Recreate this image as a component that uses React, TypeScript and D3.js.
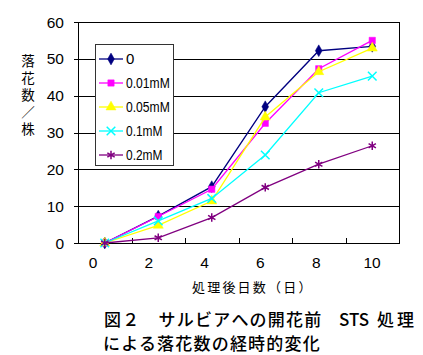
import React from 'react';
import * as d3 from 'd3';

const days = ['0', '2', '4', '6', '8', '10'];
const dayNums = [0, 2, 4, 6, 8, 10];
const seriesNames = ['0', '0.01mM', '0.05mM', '0.1mM', '0.2mM'];
const s0 = [0, 7.3, 15.3, 37.0, 52.2, 53.4];
const s001 = [0, 7.2, 14.6, 32.5, 47.3, 55.0];
const s005 = [0, 4.8, 11.4, 34.2, 46.5, 52.9];
const s01 = [0, 6.0, 12.1, 23.9, 40.8, 45.3];
const s02 = [0, 1.4, 6.9, 15.1, 21.4, 26.4];
const allSeries = [s0, s001, s005, s01, s02];
const yTicks = [0, 10, 20, 30, 40, 50, 60];
const colors = ['#000080', '#FF00FF', '#FFFF00', '#00FFFF', '#800080'];
const markerTypes = ['diamond', 'square', 'triangle', 'times', 'asterisk'];

const yTitle = ['落', '花', '数', '／', '株'];
const xTitle = '処理後日数（日）';
const caption1a = '図２　サルビアへの開花前';
const caption1b = 'STS';
const caption1c = '処理';
const caption2 = 'による落花数の経時的変化';

const W = 423;
const H = 355;
const L = 78, R = 399, T = 22, B = 243;

const num = "'Liberation Sans', Arial, sans-serif";
const jp = "'Noto Sans CJK JP', 'Noto Sans CJK SC', sans-serif";

function Marker({ type, x, y, color }: { type: string; x: number; y: number; color: string }) {
  let sym: any;
  let stroke = false;
  let size = 42;
  if (type === 'diamond') { sym = d3.symbolDiamond; size = 40; }
  else if (type === 'square') { sym = d3.symbolSquare; size = 40; }
  else if (type === 'triangle') { sym = d3.symbolTriangle; size = 44; }
  else if (type === 'times') { sym = d3.symbolTimes; size = 50; stroke = true; }
  else { sym = d3.symbolAsterisk; size = 50; stroke = true; }
  const d = d3.symbol(sym, size)() as string;
  return (
    <path
      d={d}
      transform={`translate(${x},${y})`}
      fill={stroke ? 'none' : color}
      stroke={color}
      strokeWidth={stroke ? 1.5 : 0.5}
    />
  );
}

export default function App() {
  const x = d3.scaleBand<string>().domain(days).range([L, R]).padding(0);
  const xc = (d: string) => (x(d) as number) + x.bandwidth() / 2;
  const y = d3.scaleLinear().domain([0, 60]).range([B, T]);
  const xLabel = d3.scaleLinear().domain([0, 10]).range([93, 372]);
  const line = d3.line<number>().x((_, i) => xc(days[i])).y((v) => y(v));

  const legX = 95, legY = 44, legW = 78, legH = 121;
  const legStep = 24;

  return (
    <svg width={W} height={H} style={{ position: 'absolute', left: 0, top: 0, background: '#fff' }}>
      <rect x={0} y={0} width={W} height={H} fill="#fff" />
      {yTicks.map((t) => (
        <line key={'g' + t} x1={L - 4} x2={R} y1={Math.round(y(t)) + 0.5} y2={Math.round(y(t)) + 0.5} stroke="#000" strokeWidth={1} />
      ))}
      <rect x={L + 0.5} y={Math.round(y(60)) + 0.5} width={R - L} height={Math.round(y(0)) - Math.round(y(60))} fill="none" stroke="#000" strokeWidth={1} />
      {days.slice(1).map((d) => (
        <line key={'xt' + d} x1={Math.round(x(d) as number) + 0.5} x2={Math.round(x(d) as number) + 0.5} y1={Math.round(y(0))} y2={Math.round(y(0)) - 5} stroke="#000" />
      ))}
      {yTicks.map((t) => (
        <text key={'yl' + t} x={64} y={y(t)} dy="0.36em" textAnchor="end" fontFamily={num} fontSize={15.5} fill="#000">{t}</text>
      ))}
      {dayNums.map((d) => (
        <text key={'xl' + d} x={xLabel(d)} y={262} dy="0.36em" textAnchor="middle" fontFamily={num} fontSize={15.5} fill="#000">{d}</text>
      ))}
      {allSeries.map((s, i) => (
        <g key={'s' + i}>
          <path d={line(s) as string} fill="none" stroke={colors[i]} strokeWidth={1.3} />
          {s.map((v, j) => (
            <Marker key={j} type={markerTypes[i]} x={xc(days[j])} y={y(v)} color={colors[i]} />
          ))}
        </g>
      ))}
      <rect x={legX + 0.5} y={legY + 0.5} width={legW} height={legH} fill="#fff" stroke="#333" strokeWidth={1} />
      {seriesNames.map((n, i) => {
        const cy = legY + 15 + i * legStep;
        return (
          <g key={'lg' + i}>
            <line x1={legX + 4} x2={legX + 28} y1={cy} y2={cy} stroke={colors[i]} strokeWidth={1.3} />
            <Marker type={markerTypes[i]} x={legX + 16} y={cy} color={colors[i]} />
            <text x={legX + 31} y={cy} dy="0.36em" fontFamily={num} fontSize={15} fill="#000"
              textLength={n.length > 1 ? n.length * 7.3 : undefined} lengthAdjust="spacingAndGlyphs">{n}</text>
          </g>
        );
      })}
      {yTitle.map((c, i) => (
        <text key={'yt' + i} x={28} y={61 + i * 17} dy="0.36em" textAnchor="middle" fontFamily={jp} fontSize={13.5} fill="#000">{c}</text>
      ))}
      <text x={192} y={287} dy="0.36em" fontFamily={jp} fontSize={13} letterSpacing={2.2} fill="#000">{xTitle}</text>
      <text x={104} y={320} dy="0.36em" fontFamily={jp} fontSize={17} fontWeight={500} letterSpacing={1.2} fill="#000">{caption1a}</text>
      <text x={339} y={320} dy="0.36em" fontFamily={jp} fontSize={17} fontWeight={500} fill="#000">{caption1b}</text>
      <text x={377} y={320} dy="0.36em" fontFamily={jp} fontSize={17} fontWeight={500} letterSpacing={3} fill="#000">{caption1c}</text>
      <text x={103} y={344} dy="0.36em" fontFamily={jp} fontSize={17} fontWeight={500} letterSpacing={1.2} fill="#000">{caption2}</text>
    </svg>
  );
}
